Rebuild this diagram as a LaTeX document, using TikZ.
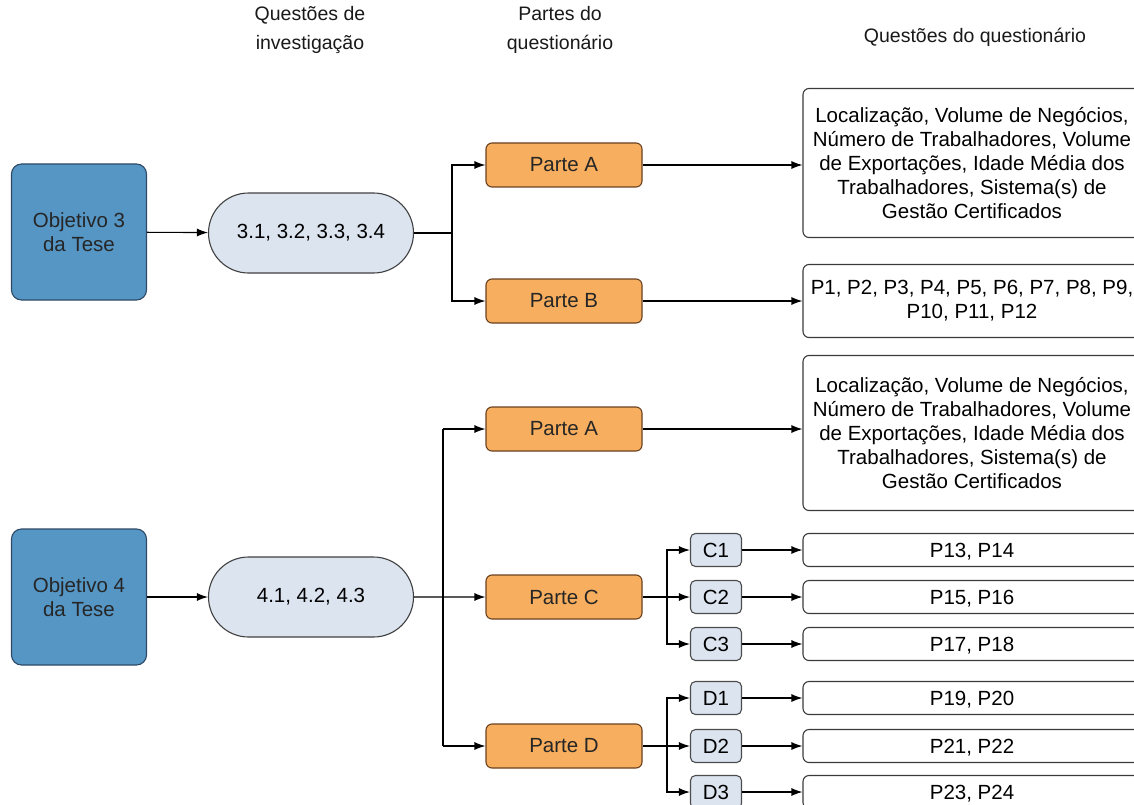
\documentclass[tikz,border=0pt]{standalone}
\usepackage{fontspec}
\setmainfont{Liberation Sans}
\usetikzlibrary{arrows.meta,shapes.misc}
\definecolor{objblue}{HTML}{5596C5}
\definecolor{objline}{HTML}{2E4A66}
\definecolor{pillblue}{HTML}{DCE4F0}
\definecolor{partorange}{HTML}{F7AE5E}
\definecolor{partline}{HTML}{6B4120}
\definecolor{boxline}{HTML}{3A3A3A}

\begin{document}
\begin{tikzpicture}[x=1pt,y=-1pt,>={Latex[length=11pt,width=8pt]},line width=1.1pt,
  every node/.style={font=\fontsize{20.5}{24}\selectfont,align=center,inner sep=2pt},
  header/.style={font=\fontsize{19.5}{29}\selectfont,text=black!90},
  objbox/.style={draw=objline,fill=objblue,rounded corners=10pt,minimum width=135pt,minimum height=136pt,text=black!85},
  qpill/.style={rounded rectangle,draw=black!75,fill=pillblue,minimum width=209pt,minimum height=80pt},
  partbox/.style={draw=partline,fill=partorange,rounded corners=6pt,minimum width=156pt,minimum height=44pt,text=black!85},
  subbox/.style={draw=black!70,fill=pillblue,rounded corners=5pt,minimum width=51pt,minimum height=33pt},
  ansbox/.style={draw=boxline,rounded corners=6pt,minimum width=338pt,minimum height=33pt},
  ansline/.style={ansbox,text height=15pt,text depth=1pt}]
\useasboundingbox (0,0) rectangle (1134,805);

\node[header] (hq) at (310,30) {Questões de\\investigação};
\node[header] (hp) at (560,30) {Partes do\\questionário};
\node[header] (hr) at (975,37) {Questões do questionário};

% objetivo 3
\node[objbox] (obj3) at (79,232) {Objetivo 3\\da Tese};
\node[qpill] (q3) at (311,233) {3.1, 3.2, 3.3, 3.4};
\node[partbox] (pa3) at (564,165) {Parte A};
\node[partbox] (pb3) at (564,301) {Parte B};
\node[ansbox,minimum height=149pt] (ra3) at (972,163) {Localização, Volume de Negócios,\\Número de Trabalhadores, Volume\\de Exportações, Idade Média dos\\Trabalhadores, Sistema(s) de\\Gestão Certificados};
\node[ansbox,minimum height=73pt] (rb3) at (972,301) {P1, P2, P3, P4, P5, P6, P7, P8, P9,\\P10, P11, P12};

\draw[->] (obj3) -- (q3);
\draw (q3.east) -- (452,233) coordinate (j3);
\draw[->] (j3) |- (pa3);
\draw[->] (j3) |- (pb3);
\draw[->] (pa3) -- (pa3 -| ra3.west);
\draw[->] (pb3) -- (pb3 -| rb3.west);

% objetivo 4
\node[objbox] (obj4) at (79,597) {Objetivo 4\\da Tese};
\node[qpill] (q4) at (311,597) {4.1, 4.2, 4.3};
\node[partbox] (pa4) at (564,429) {Parte A};
\node[partbox] (pc4) at (564,597) {Parte C};
\node[partbox] (pd4) at (564,746) {Parte D};
\node[ansbox,minimum height=155pt] (ra4) at (972,433) {Localização, Volume de Negócios,\\Número de Trabalhadores, Volume\\de Exportações, Idade Média dos\\Trabalhadores, Sistema(s) de\\Gestão Certificados};

\node[subbox] (c1) at (716,550) {C1};
\node[subbox] (c2) at (716,597) {C2};
\node[subbox] (c3) at (716,644) {C3};
\node[subbox] (d1) at (716,698) {D1};
\node[subbox] (d2) at (716,746) {D2};
\node[subbox] (d3) at (716,792) {D3};

\node[ansline] (rc1) at (972,550) {P13, P14};
\node[ansline] (rc2) at (972,597) {P15, P16};
\node[ansline] (rc3) at (972,644) {P17, P18};
\node[ansline] (rd1) at (972,698) {P19, P20};
\node[ansline] (rd2) at (972,746) {P21, P22};
\node[ansline] (rd3) at (972,792) {P23, P24};

\draw[->] (obj4) -- (q4);
\draw[->] (q4) -- (pc4);
\draw (443,429) coordinate (j4t) -- (443,746) coordinate (j4b);
\draw[->] (j4t) -- (pa4);
\draw[->] (j4b) -- (pd4);
\draw[->] (pa4) -- (pa4 -| ra4.west);

\draw (pc4.east) -- (667,597) coordinate (jc);
\draw[->] (jc) |- (c1);
\draw[->] (jc) -- (c2);
\draw[->] (jc) |- (c3);
\draw (pd4.east) -- (667,746) coordinate (jd);
\draw[->] (jd) |- (d1);
\draw[->] (jd) -- (d2);
\draw[->] (jd) |- (d3);

\foreach \s in {c1,c2,c3,d1,d2,d3}
  \draw[->] (\s) -- (r\s);
\end{tikzpicture}
\end{document}
